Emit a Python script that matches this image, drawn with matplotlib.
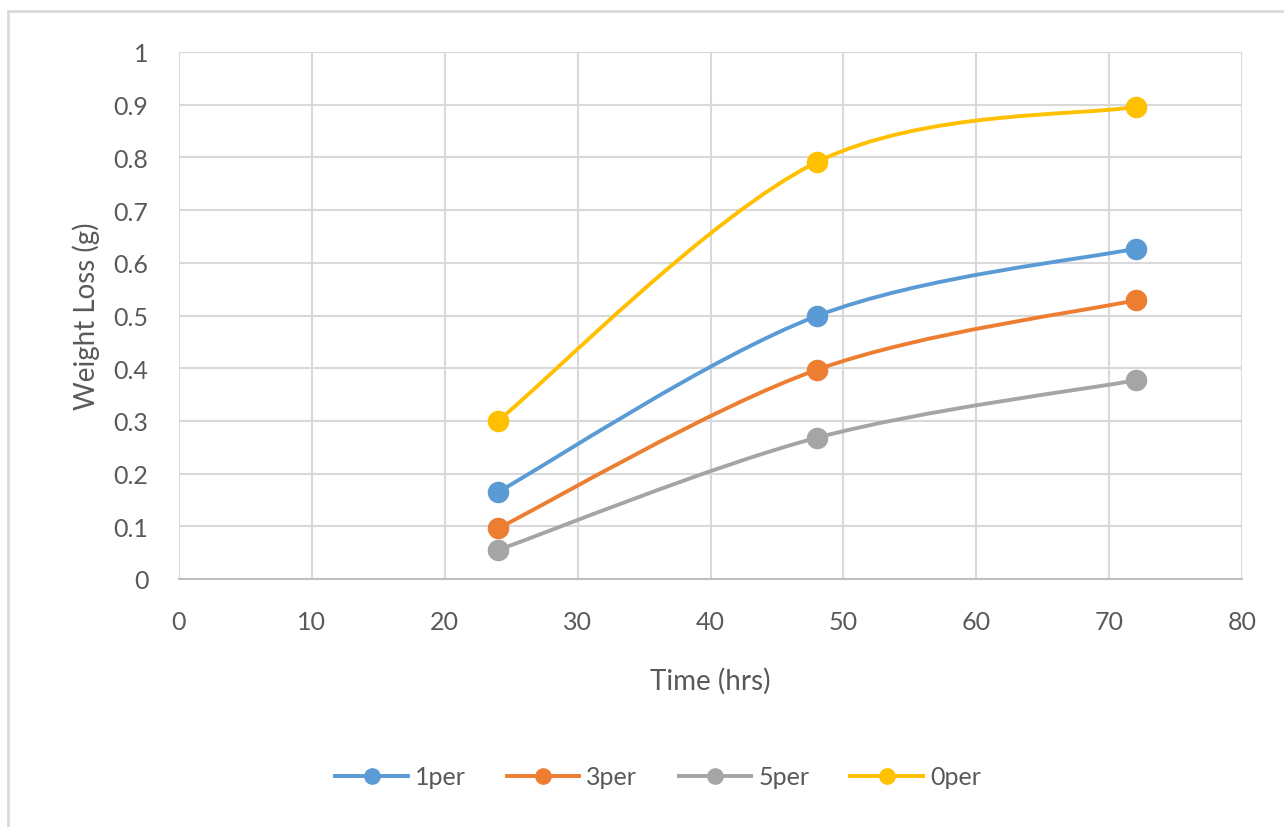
import matplotlib
matplotlib.use("Agg")
import matplotlib.pyplot as plt
import numpy as np
from matplotlib.path import Path
from matplotlib.patches import PathPatch, Rectangle
from matplotlib.lines import Line2D
from matplotlib.ticker import FuncFormatter, MultipleLocator

plt.rcParams["font.family"] = ["Lato", "DejaVu Sans"]

# data
hours = [24, 48, 72]
loss_1per = [0.165, 0.499, 0.627]
loss_3per = [0.096, 0.397, 0.529]
loss_5per = [0.055, 0.268, 0.377]
loss_0per = [0.300, 0.791, 0.896]

series = [
    ("1per", loss_1per, "#5B9BD5"),
    ("3per", loss_3per, "#ED7D31"),
    ("5per", loss_5per, "#A5A5A5"),
    ("0per", loss_0per, "#FFC000"),
]

TEXT = "#595959"
GRID = "#D9D9D9"


def smooth_path(xs, ys):
    # Excel-like smoothed line: cubic Bezier segments through the points
    pts = np.column_stack([xs, ys]).astype(float)
    n = len(pts)
    tang = [(pts[min(i + 1, n - 1)] - pts[max(i - 1, 0)]) / 6.0 for i in range(n)]
    verts = [pts[0]]
    codes = [Path.MOVETO]
    for i in range(n - 1):
        verts += [pts[i] + tang[i], pts[i + 1] - tang[i + 1], pts[i + 1]]
        codes += [Path.CURVE4] * 3
    return Path(verts, codes)


fig = plt.figure(figsize=(12.84, 8.28), dpi=100)
fig.patch.set_facecolor("white")
fig.patches.append(Rectangle((8 / 1284, -0.05), 1.2, (828 - 12) / 828 + 0.05,
                             transform=fig.transFigure, fill=False,
                             edgecolor=GRID, linewidth=2, zorder=0))

ax = fig.add_axes([179 / 1284, 1 - 580 / 828, (1242 - 179) / 1284, (580 - 53) / 828])
ax.set_xlim(0, 80)
ax.set_ylim(0, 1)
ax.xaxis.set_major_locator(MultipleLocator(10))
ax.yaxis.set_major_locator(MultipleLocator(0.1))
ax.yaxis.set_major_formatter(FuncFormatter(lambda v, p: f"{v:g}"))
ax.grid(True, color=GRID, linewidth=1.5, zorder=0)
ax.set_axisbelow(True)
for side in ["top", "right", "left"]:
    ax.spines[side].set_visible(False)
ax.spines["bottom"].set_color("#BFBFBF")
ax.spines["bottom"].set_linewidth(1.5)
ax.tick_params(length=0, labelsize=18, labelcolor=TEXT)
ax.tick_params(axis="x", pad=22)
ax.tick_params(axis="y", pad=22)

handles = []
for name, vals, color in series:
    ax.add_patch(PathPatch(smooth_path(hours, vals), fill=False, edgecolor=color,
                           linewidth=2.8, capstyle="round", zorder=3))
    ax.plot(hours, vals, linestyle="none", marker="o", markersize=14.5,
            color=color, zorder=4, clip_on=False)
    handles.append(Line2D([], [], color=color, linewidth=2.8, marker="o",
                          markersize=11, label=name))

ax.set_xlabel("Time (hrs)", fontsize=20, color=TEXT, labelpad=25)
ax.set_ylabel("Weight Loss (g)", fontsize=20, color=TEXT, labelpad=10)

fig.legend(handles=handles, loc="center", bbox_to_anchor=(658 / 1284, 1 - 778 / 828),
           ncol=4, frameon=False, fontsize=18, labelcolor=TEXT,
           handlelength=2.9, handletextpad=0.28, columnspacing=1.65)

fig.savefig("out.png", dpi=100)
